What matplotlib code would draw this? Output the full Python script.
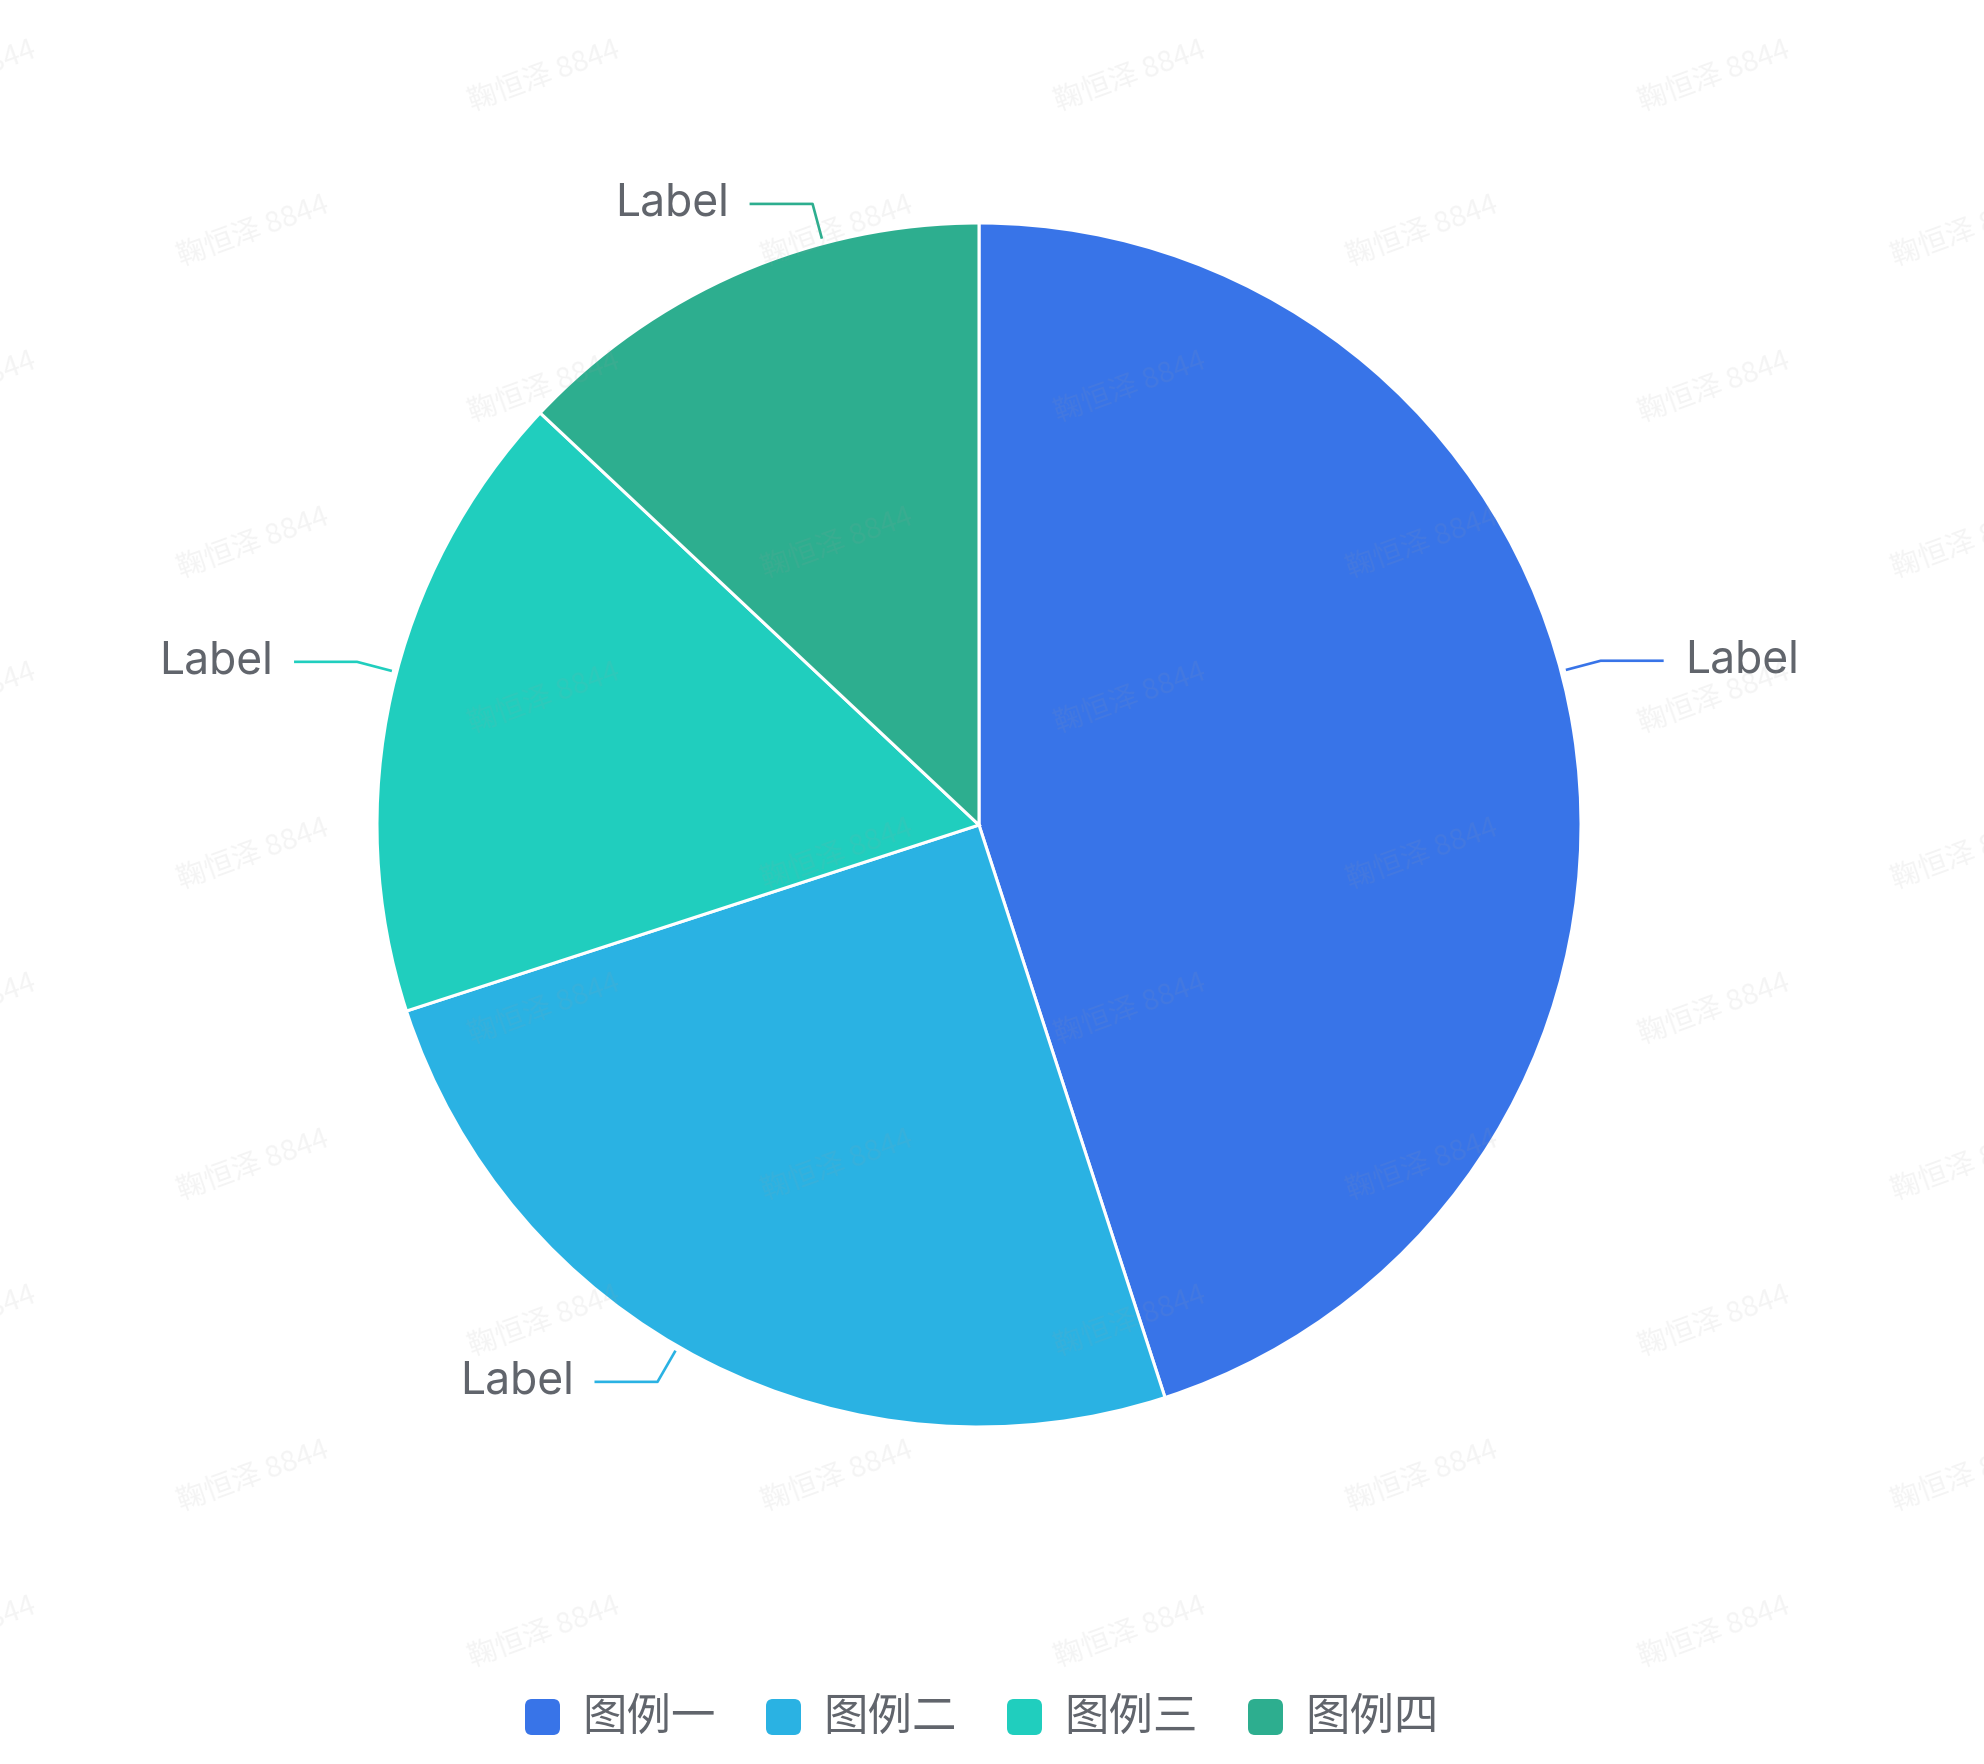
import matplotlib
matplotlib.use("Agg")
import matplotlib.pyplot as plt
from matplotlib.patches import FancyBboxPatch
import numpy as np

# ---- data ----
categories = ["图例一", "图例二", "图例三", "图例四"]
values = [45, 25, 17, 13]
slice_labels = ["Label", "Label", "Label", "Label"]
colors = ["#3874E8", "#2AB2E3", "#20CEBE", "#2DAE8F"]
# label anchor angles (deg, clockwise from 12 o'clock) – layout only
label_angles = [75.2, 210.0, 284.7, 345.0]
watermark = "鞠恒泽 8844"

W, H = 1984, 1764
fig = plt.figure(figsize=(W / 100, H / 100), dpi=100)
ax = fig.add_axes([0, 0, 1, 1])

cx, cy, R = 979, H - 825, 602
ax.pie(values, colors=colors, startangle=90, counterclock=False,
       center=(cx, cy), radius=R, frame=True,
       wedgeprops=dict(edgecolor="white", linewidth=2.2))
ax.set_xlim(0, W)
ax.set_ylim(0, H)
ax.set_aspect("auto")
ax.axis("off")

text_color = "#61656C"
for lab, ang, col in zip(slice_labels, label_angles, colors):
    t = np.deg2rad(ang)
    ux, uy = np.sin(t), np.cos(t)
    ax_, ay_ = cx + (R + 5) * ux, cy + (R + 5) * uy
    ex, ey = ax_ + 36 * ux, ay_ + 36 * uy
    side = 1 if ux > 0 else -1
    fx = ex + side * 63
    ax.plot([ax_, ex, fx], [ay_, ey, ey], color=col, lw=1.9,
            solid_capstyle="butt", zorder=3)
    ax.text(fx + side * 21, ey, lab, ha="left" if side > 0 else "right",
            va="center", fontsize=32, color=text_color,
            family=["Inter", "DejaVu Sans"], zorder=4)

# legend
leg_y = H - 1717
x0, step = 525, 241
for i, (cat, col) in enumerate(zip(categories, colors)):
    xs = x0 + i * step
    box = FancyBboxPatch((xs, leg_y - 18), 35, 36,
                         boxstyle="round,pad=0,rounding_size=7",
                         facecolor=col, edgecolor="none", zorder=3)
    ax.add_patch(box)
    ax.text(xs + 35 + 22, leg_y, cat, ha="left", va="center",
            fontsize=32, color=text_color,
            family=["Noto Sans CJK SC", "DejaVu Sans"], zorder=4)

# faint watermark grid
row_y = [76 + k * 155.6 for k in range(11)]
for k, yy in enumerate(row_y):
    xs_list = [-40, 544, 1130, 1714] if k % 2 == 0 else [253, 837, 1422, 1967]
    for xx in xs_list:
        ax.text(xx, H - yy, watermark, ha="center", va="center",
                rotation=20, fontsize=21, color="#a0a0a0", alpha=0.11,
                family=["Noto Sans CJK SC", "DejaVu Sans"], zorder=10)

fig.savefig("out.png", dpi=100, facecolor="white")
